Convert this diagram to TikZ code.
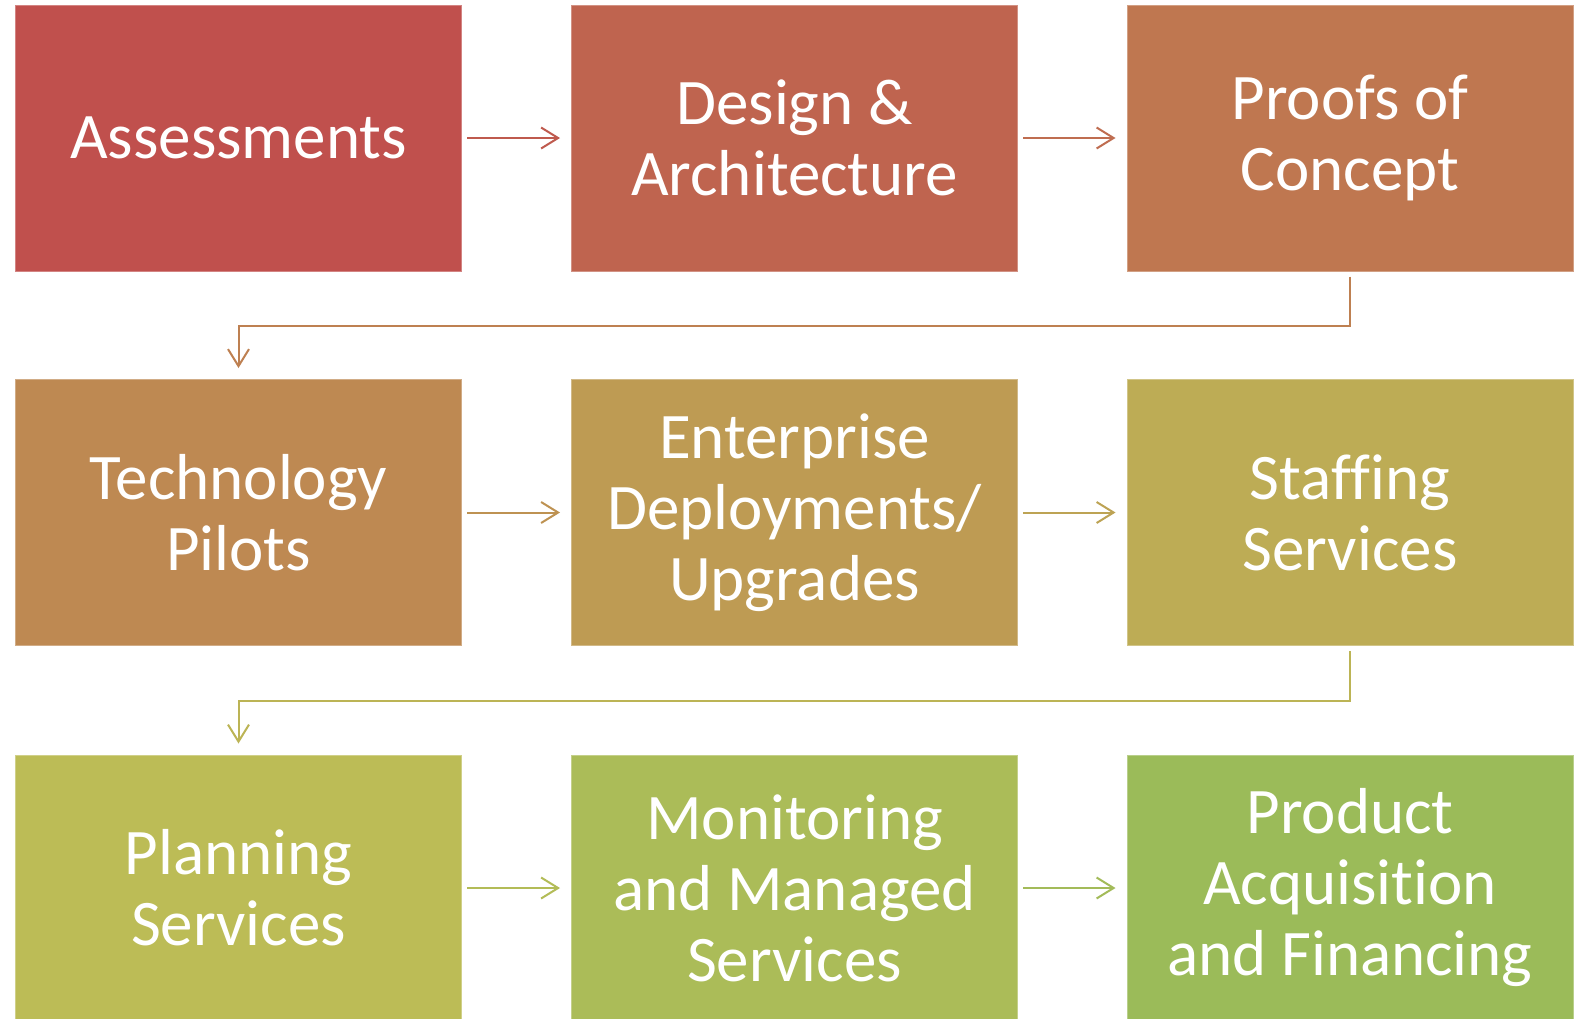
\documentclass[tikz,border=0pt]{standalone}
\usepackage{fontspec}
\setmainfont[Ligatures=NoCommon]{Carlito}
\usetikzlibrary{arrows.meta}
\definecolor{c1}{HTML}{C0504D}
\definecolor{c2}{HTML}{BF644F}
\definecolor{c3}{HTML}{BF7750}
\definecolor{c4}{HTML}{BE8952}
\definecolor{c5}{HTML}{BE9B53}
\definecolor{c6}{HTML}{BDAC55}
\definecolor{c7}{HTML}{BCBC56}
\definecolor{c8}{HTML}{ABBC58}
\definecolor{c9}{HTML}{9BBB59}
\tikzset{
  stepbox/.style={rectangle, fill=#1, draw=#1!70!white, line width=1pt,
    minimum width=446pt, minimum height=266pt, inner sep=0pt,
    text=white, align=center, font=\fontsize{65}{71}\selectfont},
  conn/.style={draw=#1, line width=2pt, -{Straight Barb[length=17pt,width=21pt,line width=2pt]},
    shorten <=5pt, shorten >=11pt}
}
\begin{document}
\begin{tikzpicture}[x=1pt,y=-1pt]
\clip (0,0) rectangle (1583,1018);
\fill[white] (0,0) rectangle (1583,1018);
\node[stepbox=c1] (b1) at (238.5,138) {Assessments};
\node[stepbox=c2] (b2) at (794.5,138) {Design \&\\Architecture};
\node[stepbox=c3] (b3) at (1350,138) {Proofs of\\Concept};
\node[stepbox=c4] (b4) at (238.5,512.5) {Technology\\Pilots};
\node[stepbox=c5] (b5) at (794.5,512.5) {Enterprise\\Deployments/\\Upgrades};
\node[stepbox=c6] (b6) at (1350,512.5) {Staffing\\Services};
\node[stepbox=c7] (b7) at (238.5,888) {Planning\\Services};
\node[stepbox=c8] (b8) at (794.5,888) {Monitoring\\and Managed\\Services};
\node[stepbox=c9] (b9) at (1350,888) {Product\\Acquisition\\and Financing};
\coordinate (m1) at (0,325.5);
\coordinate (m2) at (0,700.5);
\draw[conn=c1!50!c2] (b1) -- (b2);
\draw[conn=c2!50!c3] (b2) -- (b3);
\draw[conn=c3!50!c4] (b3.south) -- (b3.south |- m1) -| (b4.north);
\draw[conn=c4!50!c5] (b4) -- (b5);
\draw[conn=c5!50!c6] (b5) -- (b6);
\draw[conn=c6!50!c7] (b6.south) -- (b6.south |- m2) -| (b7.north);
\draw[conn=c7!50!c8] (b7) -- (b8);
\draw[conn=c8!50!c9] (b8) -- (b9);
\end{tikzpicture}
\end{document}
